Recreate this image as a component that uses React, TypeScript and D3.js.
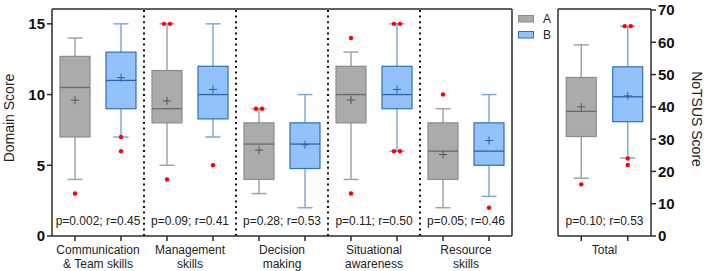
import React from "react";
import * as d3 from "d3";

const categories = ["Communication\n& Team skills", "Management\nskills", "Decision\nmaking", "Situational\nawareness", "Resource\nskills"];
const statsLabels = ["p=0.002; r=0.45", "p=0.09; r=0.41", "p=0.28; r=0.53", "p=0.11; r=0.50", "p=0.05; r=0.46"];
const seriesNames = ["A", "B"];

// Group A: [lowWhisker, q1, median, q3, highWhisker, mean]
const aLow = [4, 5, 3, 4, 2];
const aQ1 = [7, 8, 4, 8, 4];
const aMed = [10.5, 9, 6.5, 10, 6];
const aQ3 = [12.7, 11.7, 8, 12, 8];
const aHigh = [14, 15, 9, 13, 9];
const aMean = [9.6, 9.55, 6.07, 9.62, 5.76];
const aOut = [[3], [15, 15, 4], [9, 9], [14, 3], [10]];

const bLow = [7, 7, 2, 6, 2.8];
const bQ1 = [9, 8.28, 4.77, 9, 5];
const bMed = [11, 10, 6.5, 10, 6];
const bQ3 = [13, 12, 8, 12, 8];
const bHigh = [15, 15, 10, 15, 10];
const bMean = [11.2, 10.36, 6.45, 10.36, 6.75];
const bOut = [[7, 6], [5], [], [15, 15, 6, 6], [2]];

// Total panel
const totalCategory = ["Total"];
const totalStats = ["p=0.10; r=0.53"];
const totA = [17.9, 30.8, 38.6, 49.1, 59.2, 40.0];
const totAOut = [16];
const totB = [24.2, 35.4, 43.1, 52.4, 65.0, 43.4];
const totBOut = [65, 65, 24, 22];

const leftTicks = [0, 5, 10, 15];
const rightTicks = [0, 10, 20, 30, 40, 50, 60, 70];

const FONT = "'Liberation Sans', Arial, Helvetica, sans-serif";
const STYLE = {
  A: { fill: "#ababab", stroke: "#8c8c8c", median: "#6a6a6a", whisker: "#a3a3a3", mean: "#555" },
  B: { fill: "#93c1fa", stroke: "#2e6fc0", median: "#2a62ab", whisker: "#7ea8d8", mean: "#2f5f9f" },
};

type Stat = { low: number; q1: number; med: number; q3: number; high: number; mean: number; out: number[] };

function Box({ cx, s, y, st }: { cx: number; s: Stat; y: d3.ScaleLinear<number, number>; st: any }) {
  const w = 30;
  const cap = 15;
  const counts: Record<string, number> = {};
  s.out.forEach((v) => (counts[v] = (counts[v] || 0) + 1));
  const dots: { v: number; dx: number }[] = [];
  Object.keys(counts).forEach((k) => {
    const n = counts[k];
    for (let i = 0; i < n; i++) dots.push({ v: +k, dx: n > 1 ? (i - (n - 1) / 2) * 6 : 0 });
  });
  return (
    <g>
      <line x1={cx} x2={cx} y1={y(s.high)} y2={y(s.q3)} stroke={st.whisker} strokeWidth={1.5} />
      <line x1={cx} x2={cx} y1={y(s.q1)} y2={y(s.low)} stroke={st.whisker} strokeWidth={1.5} />
      <line x1={cx - cap / 2} x2={cx + cap / 2} y1={y(s.high)} y2={y(s.high)} stroke={st.whisker} strokeWidth={1.5} />
      <line x1={cx - cap / 2} x2={cx + cap / 2} y1={y(s.low)} y2={y(s.low)} stroke={st.whisker} strokeWidth={1.5} />
      <rect x={cx - w / 2} y={y(s.q3)} width={w} height={y(s.q1) - y(s.q3)} fill={st.fill} stroke={st.stroke} strokeWidth={1.2} />
      <line x1={cx - w / 2} x2={cx + w / 2} y1={y(s.med)} y2={y(s.med)} stroke={st.median} strokeWidth={1.3} />
      <line x1={cx - 4} x2={cx + 4} y1={y(s.mean)} y2={y(s.mean)} stroke={st.mean} strokeWidth={1} />
      <line x1={cx} x2={cx} y1={y(s.mean) - 4} y2={y(s.mean) + 4} stroke={st.mean} strokeWidth={1} />
      {dots.map((d, i) => (
        <circle key={i} cx={cx + d.dx} cy={y(d.v)} r={2.2} fill="#ff0000" />
      ))}
    </g>
  );
}

export default function App() {
  const W = 709, H = 271;
  const top = 9, bottom = 236;
  const yL = d3.scaleLinear().domain([0, 16]).range([bottom, top + 0.7]);
  const yR = d3.scaleLinear().domain([0, 70]).range([bottom, 10]);
  const xL = d3.scaleBand<string>().domain(categories).range([52, 512]).padding(0);
  const xR = d3.scaleBand<string>().domain(totalCategory).range([558, 651]).padding(0);
  const inL = d3.scaleBand<string>().domain(seriesNames).range([0, xL.bandwidth()]).padding(0);
  const inR = d3.scaleBand<string>().domain(seriesNames).range([0, xR.bandwidth()]).padding(0);

  const statA = (i: number): Stat => ({ low: aLow[i], q1: aQ1[i], med: aMed[i], q3: aQ3[i], high: aHigh[i], mean: aMean[i], out: aOut[i] });
  const statB = (i: number): Stat => ({ low: bLow[i], q1: bQ1[i], med: bMed[i], q3: bQ3[i], high: bHigh[i], mean: bMean[i], out: bOut[i] });
  const fromArr = (a: number[], out: number[]): Stat => ({ low: a[0], q1: a[1], med: a[2], q3: a[3], high: a[4], mean: a[5], out });

  const axisColor = "#2b2b2b";

  return (
    <svg width={W} height={H} style={{ position: "absolute", left: 0, top: 0, fontFamily: FONT }}>
      <rect width={W} height={H} fill="#fff" />
      {/* Left panel frame */}
      <line x1={52} x2={512} y1={top} y2={top} stroke={axisColor} strokeWidth={1.5} />
      <line x1={512} x2={512} y1={top} y2={bottom} stroke={axisColor} strokeWidth={1.5} />
      {/* separators */}
      {categories.slice(1).map((c) => (
        <line key={c} x1={xL(c)!} x2={xL(c)!} y1={top + 1} y2={bottom} stroke="#111" strokeWidth={2} strokeDasharray="2,3.6" />
      ))}
      {categories.map((c, i) => {
        const x0 = xL(c)!;
        const cxA = x0 + inL("A")! + inL.bandwidth() / 2;
        const cxB = x0 + inL("B")! + inL.bandwidth() / 2;
        const lines = c.split("\n");
        return (
          <g key={c}>
            <Box cx={cxA} s={statA(i)} y={yL} st={STYLE.A} />
            <Box cx={cxB} s={statB(i)} y={yL} st={STYLE.B} />
            <text x={x0 + xL.bandwidth() / 2} y={225} textAnchor="middle" fontSize={12} fill="#222">{statsLabels[i]}</text>
            <line x1={cxA} x2={cxA} y1={bottom} y2={bottom + 5} stroke={axisColor} strokeWidth={1.5} />
            <line x1={cxB} x2={cxB} y1={bottom} y2={bottom + 5} stroke={axisColor} strokeWidth={1.5} />
            {lines.map((l, k) => (
              <text key={k} x={x0 + xL.bandwidth() / 2} y={254 + k * 13.5} textAnchor="middle" fontSize={12} fill="#222">{l}</text>
            ))}
          </g>
        );
      })}
      {/* Left axes */}
      <line x1={52} x2={52} y1={top} y2={bottom} stroke={axisColor} strokeWidth={1.5} />
      <line x1={52} x2={512} y1={bottom} y2={bottom} stroke={axisColor} strokeWidth={1.5} />
      {leftTicks.map((t) => (
        <g key={t}>
          <line x1={47} x2={52} y1={yL(t)} y2={yL(t)} stroke={axisColor} strokeWidth={1.5} />
          <text x={45} y={yL(t)} dy="0.36em" textAnchor="end" fontSize={15} fontWeight="bold" fill="#111">{t}</text>
        </g>
      ))}
      <text transform={`translate(14,118) rotate(-90)`} textAnchor="middle" fontSize={14} fill="#222">Domain Score</text>

      {/* Legend */}
      {seriesNames.map((n, i) => (
        <g key={n}>
          <rect x={518.5} y={15.5 + i * 16} width={15} height={6.5} fill={(STYLE as any)[n].fill} stroke={(STYLE as any)[n].stroke} strokeWidth={1} />
          <text x={543} y={18.5 + i * 16} dy="0.36em" fontSize={12} fill="#222">{n}</text>
        </g>
      ))}

      {/* Right panel */}
      <line x1={558} x2={651} y1={top} y2={top} stroke={axisColor} strokeWidth={1.5} />
      <line x1={558} x2={558} y1={top} y2={bottom} stroke={axisColor} strokeWidth={1.5} />
      {totalCategory.map((c) => {
        const x0 = xR(c)!;
        const cxA = x0 + inR("A")! + inR.bandwidth() / 2;
        const cxB = x0 + inR("B")! + inR.bandwidth() / 2;
        return (
          <g key={c}>
            <Box cx={cxA} s={fromArr(totA, totAOut)} y={yR} st={STYLE.A} />
            <Box cx={cxB} s={fromArr(totB, totBOut)} y={yR} st={STYLE.B} />
            <text x={x0 + xR.bandwidth() / 2} y={225} textAnchor="middle" fontSize={12} fill="#222">{totalStats[0]}</text>
            <line x1={cxA} x2={cxA} y1={bottom} y2={bottom + 5} stroke={axisColor} strokeWidth={1.5} />
            <line x1={cxB} x2={cxB} y1={bottom} y2={bottom + 5} stroke={axisColor} strokeWidth={1.5} />
            <text x={x0 + xR.bandwidth() / 2} y={254} textAnchor="middle" fontSize={12} fill="#222">{c}</text>
          </g>
        );
      })}
      <line x1={558} x2={651} y1={bottom} y2={bottom} stroke={axisColor} strokeWidth={1.5} />
      <line x1={651} x2={651} y1={top} y2={bottom} stroke={axisColor} strokeWidth={1.5} />
      {rightTicks.map((t) => (
        <g key={t}>
          <line x1={651} x2={656} y1={yR(t)} y2={yR(t)} stroke={axisColor} strokeWidth={1.5} />
          <text x={658} y={yR(t)} dy="0.36em" textAnchor="start" fontSize={15} fontWeight="bold" fill="#111">{t}</text>
        </g>
      ))}
      <text transform={`translate(692,119) rotate(90)`} textAnchor="middle" fontSize={14} fill="#222">NoTSUS Score</text>
    </svg>
  );
}
